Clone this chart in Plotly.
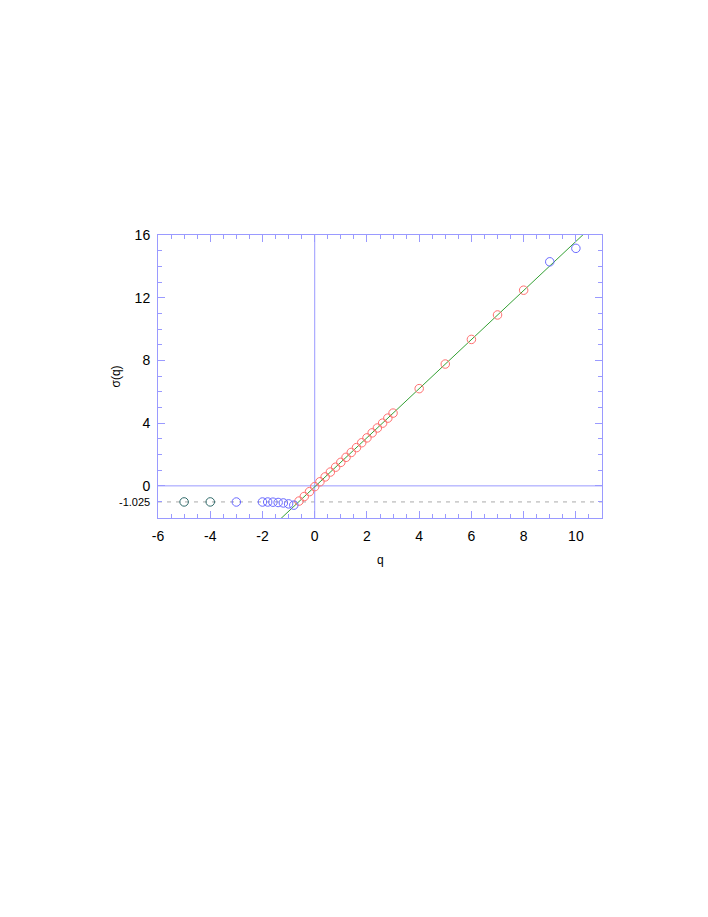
import plotly.graph_objects as go

# --- data ---
red_q = [-0.6, -0.4, -0.2, 0.0, 0.2, 0.4, 0.6, 0.8, 1.0, 1.2, 1.4, 1.6, 1.8, 2.0, 2.2, 2.4, 2.6, 2.8, 3.0, 4, 5, 6, 7, 8]
red_s = [-0.97, -0.68, -0.37, -0.05, 0.26, 0.57, 0.88, 1.19, 1.50, 1.82, 2.13, 2.44, 2.75, 3.06, 3.38,
         3.69, 4.00, 4.32, 4.64, 6.20, 7.77, 9.34, 10.90, 12.48]
blue_q = [-3, -2, -1.8, -1.6, -1.4, -1.2, -1.0, -0.8, 9, 10]
blue_s = [-1.03, -1.03, -1.03, -1.04, -1.06, -1.09, -1.15, -1.23, 14.29, 15.15]
teal_q = [-5, -4]
teal_s = [-1.025, -1.025]
line_q = [-1.3, 10.4]
line_slope = 1.565
line_icpt = -0.06
line_s = [line_slope * q + line_icpt for q in line_q]
asym = -1.025
x_ticks = [-6, -4, -2, 0, 2, 4, 6, 8, 10]
y_ticks = [0, 4, 8, 12, 16]

axc = "#9a9aff"
font = "Liberation Sans, Arial, sans-serif"

fig = go.Figure()
fig.add_trace(go.Scatter(x=[-6, 11], y=[asym, asym], mode="lines",
                         line=dict(color="#aaaaaa", width=1, dash="4px,5px"), showlegend=False))
fig.add_trace(go.Scatter(x=[-6, 11], y=[0, 0], mode="lines",
                         line=dict(color=axc, width=1), showlegend=False))
fig.add_trace(go.Scatter(x=[0, 0], y=[-2.05, 16], mode="lines",
                         line=dict(color=axc, width=1), showlegend=False))
fig.add_trace(go.Scatter(x=line_q, y=line_s, mode="lines",
                         line=dict(color="#33a033", width=1), showlegend=False))
fig.add_trace(go.Scatter(x=red_q, y=red_s, mode="markers",
                         marker=dict(symbol="circle-open", size=8.5, color="#ff7070", line=dict(width=1)),
                         showlegend=False))
fig.add_trace(go.Scatter(x=blue_q, y=blue_s, mode="markers",
                         marker=dict(symbol="circle-open", size=8.5, color="#6a6aff", line=dict(width=1)),
                         showlegend=False))
fig.add_trace(go.Scatter(x=teal_q, y=teal_s, mode="markers",
                         marker=dict(symbol="circle-open", size=8.5, color="#2f6a6a", line=dict(width=1)),
                         showlegend=False))

fig.update_layout(
    width=708, height=917,
    margin=dict(l=150, r=114, t=227, b=407),
    paper_bgcolor="white", plot_bgcolor="white",
    font=dict(family=font, color="black"),
    xaxis=dict(range=[-6, 11], tickvals=x_ticks, ticktext=[str(v) for v in x_ticks],
               showgrid=False, zeroline=False,
               showline=True, linecolor=axc, linewidth=1, mirror="ticks",
               ticks="inside", ticklen=7, tickcolor=axc, tickfont=dict(size=14),
               ticklabelstandoff=5,
               minor=dict(dtick=0.5, tick0=0, ticks="inside", ticklen=4, tickcolor=axc)),
    yaxis=dict(range=[-2.05, 16], tickvals=y_ticks, ticktext=[str(v) for v in y_ticks],
               showgrid=False, zeroline=False,
               showline=True, linecolor=axc, linewidth=1, mirror="ticks",
               ticks="inside", ticklen=7, tickcolor=axc, tickfont=dict(size=14),
               ticklabelstandoff=4,
               minor=dict(dtick=1, tick0=0, ticks="inside", ticklen=4, tickcolor=axc)),
    annotations=[
        dict(x=0, xref="paper", xanchor="right", xshift=-6, y=asym, yref="y",
             text="-1.025", showarrow=False, font=dict(size=11)),
        dict(x=0.5, xref="paper", y=0, yref="paper", yshift=-42, yanchor="middle",
             text="q", showarrow=False, font=dict(size=12)),
        dict(x=0, xref="paper", xanchor="center", xshift=-43, y=0.5, yref="paper",
             yanchor="middle", textangle=-90,
             text="σ(q)", showarrow=False, font=dict(size=12)),
    ],
)

fig.write_html("out.html")
